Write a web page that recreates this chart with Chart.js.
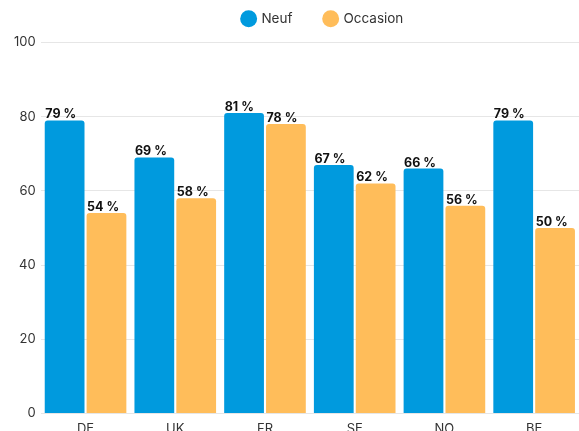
<!DOCTYPE html>
<html lang="fr">
<head>
<meta charset="UTF-8">
<title>Neuf / Occasion</title>
<script src="https://cdn.jsdelivr.net/npm/chart.js"></script>
<style>
  html, body { margin: 0; padding: 0; background: #fff; overflow: hidden; }
  .grafico { width: 579px; height: 431px; }
</style>
</head>
<body>
<div class="grafico"><canvas id="myChart"></canvas></div>
<script>
const pays = ['DE', 'UK', 'FR', 'SE', 'NO', 'BE'];
const neuf = [79, 69, 81, 67, 66, 79];
const occasion = [54, 58, 78, 62, 56, 50];
const ticksY = [0, 20, 40, 60, 80, 100];

const police = 'Inter, "Open Sans", sans-serif';

// étiquettes "xx %" au-dessus de chaque barre, calées à gauche de la barre
const etiquettes = {
  id: 'etiquettes',
  afterDatasetsDraw(chart) {
    const ctx = chart.ctx;
    ctx.save();
    ctx.font = 'bold 12.5px ' + police;
    ctx.fillStyle = '#111';
    ctx.textAlign = 'left';
    ctx.textBaseline = 'alphabetic';
    chart.data.datasets.forEach((ds, i) => {
      chart.getDatasetMeta(i).data.forEach((bar, j) => {
        ctx.fillText(ds.data[j] + ' %', bar.x - bar.width / 2 + 0.5, bar.y - 2);
      });
    });
    ctx.restore();
  }
};

// légende : marge sous la légende + léger décalage vers la droite
const reglageLegende = {
  id: 'reglageLegende',
  afterInit(chart) {
    const fit = chart.legend.fit;
    chart.legend.fit = function () {
      fit.call(this);
      this.height += 7;
    };
  },
  afterLayout(chart) {
    const dx = 27;
    chart.legend.left += dx;
    chart.legend.right += dx;
  }
};

const ctx = document.getElementById('myChart');
const chart = new Chart(ctx, {
  type: 'bar',
  data: {
    labels: pays,
    datasets: [
      { label: 'Neuf', data: neuf, backgroundColor: '#009ADE', borderRadius: 3, borderSkipped: 'bottom' },
      { label: 'Occasion', data: occasion, backgroundColor: '#FFBD5A', borderRadius: 3, borderSkipped: 'bottom' }
    ]
  },
  options: {
    responsive: true,
    maintainAspectRatio: false,
    animation: false,
    layout: { padding: { left: 9, right: -4, top: 0, bottom: -6 } },
    datasets: { bar: { categoryPercentage: 0.933, barPercentage: 0.95 } },
    plugins: {
      legend: {
        position: 'top',
        labels: {
          usePointStyle: true,
          pointStyle: 'circle',
          boxWidth: 12,
          boxHeight: 12,
          padding: 12,
          color: '#333',
          font: { family: police, size: 13.5 },
          generateLabels(chart) {
            // un peu plus d'espace entre les deux entrées
            const items = Chart.defaults.plugins.legend.labels.generateLabels(chart);
            items.forEach((it, i) => { if (i === 0) it.text = it.text + '\u2003\u2002'; });
            return items;
          }
        }
      },
      tooltip: { enabled: false }
    },
    scales: {
      x: {
        grid: { display: false },
        border: { display: false },
        ticks: { color: '#333', padding: 0, font: { family: police, size: 13 } }
      },
      y: {
        min: 0,
        max: 100,
        afterBuildTicks: (axis) => { axis.ticks = ticksY.map(v => ({ value: v })); },
        grid: { color: '#e6e6e6', drawTicks: false },
        border: { display: false },
        ticks: { color: '#333', padding: 5, font: { family: police, size: 13 } }
      }
    }
  },
  plugins: [etiquettes, reglageLegende]
});
</script>
</body>
</html>
